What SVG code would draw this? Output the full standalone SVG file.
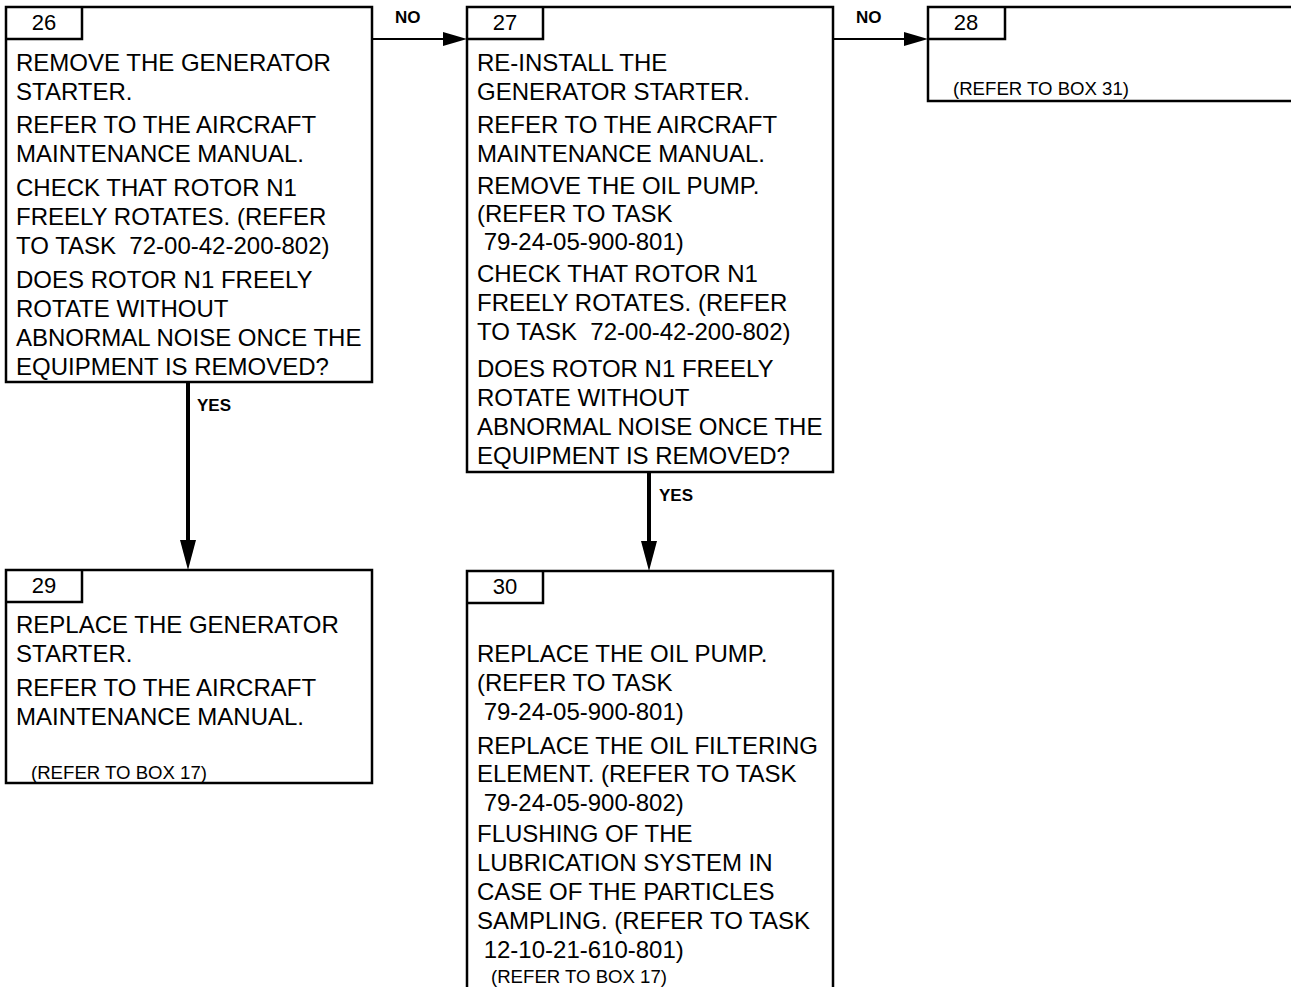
<svg xmlns="http://www.w3.org/2000/svg" width="1291" height="987" viewBox="0 0 1291 987">
<defs>
<style>
.box{fill:#fff;stroke:#000;stroke-width:2.5}
.tab{fill:none;stroke:#000;stroke-width:2.5}
.t{font-family:"Liberation Sans",Arial,sans-serif;font-size:24px;fill:#000}
.s{font-family:"Liberation Sans",Arial,sans-serif;font-size:18.6px;fill:#000}
.n{font-family:"Liberation Sans",Arial,sans-serif;font-size:22px;fill:#000;text-anchor:middle}
.l{font-family:"Liberation Sans",Arial,sans-serif;font-size:17px;font-weight:bold;fill:#000}
.v{stroke:#000;stroke-width:4;fill:none}
.h{stroke:#000;stroke-width:2;fill:none}
.p{white-space:pre}
</style>
</defs>
<rect width="1291" height="987" fill="#fff"/>
<g id="connectors">
<line class="h" x1="372" y1="39" x2="446" y2="39"/>
<polygon points="443,32 467,39 443,46"/>
<text class="l" x="395" y="23">NO</text>
<line class="h" x1="833" y1="39" x2="907" y2="39"/>
<polygon points="904,32 928,39 904,46"/>
<text class="l" x="856" y="23">NO</text>
<line class="v" x1="188" y1="382" x2="188" y2="545"/>
<polygon points="180,540 196,540 188,570"/>
<text class="l" x="197" y="411">YES</text>
<line class="v" x1="649" y1="472" x2="649" y2="545"/>
<polygon points="641,541 657,541 649,571"/>
<text class="l" x="659" y="501">YES</text>
</g>
<g id="box26">
<rect class="box" x="6" y="7" width="366" height="375"/>
<polyline class="tab" points="6,39 82,39 82,7"/>
<text class="n" x="44" y="30">26</text>
<text class="t">
<tspan x="16" y="71">REMOVE THE GENERATOR</tspan>
<tspan x="16" y="100">STARTER.</tspan>
<tspan x="16" y="133">REFER TO THE AIRCRAFT</tspan>
<tspan x="16" y="162">MAINTENANCE MANUAL.</tspan>
<tspan x="16" y="196">CHECK THAT ROTOR N1</tspan>
<tspan x="16" y="225">FREELY ROTATES. (REFER</tspan>
<tspan class="p" xml:space="preserve" x="16" y="254">TO TASK  72-00-42-200-802)</tspan>
<tspan x="16" y="288">DOES ROTOR N1 FREELY</tspan>
<tspan x="16" y="317">ROTATE WITHOUT</tspan>
<tspan x="16" y="346">ABNORMAL NOISE ONCE THE</tspan>
<tspan x="16" y="375">EQUIPMENT IS REMOVED?</tspan>
</text>
</g>
<g id="box27">
<rect class="box" x="467" y="7" width="366" height="465"/>
<polyline class="tab" points="467,39 543,39 543,7"/>
<text class="n" x="505" y="30">27</text>
<text class="t">
<tspan x="477" y="71">RE-INSTALL THE</tspan>
<tspan x="477" y="100">GENERATOR STARTER.</tspan>
<tspan x="477" y="133">REFER TO THE AIRCRAFT</tspan>
<tspan x="477" y="162">MAINTENANCE MANUAL.</tspan>
<tspan x="477" y="194">REMOVE THE OIL PUMP.</tspan>
<tspan x="477" y="222">(REFER TO TASK</tspan>
<tspan class="p" xml:space="preserve" x="477" y="250"> 79-24-05-900-801)</tspan>
<tspan x="477" y="282">CHECK THAT ROTOR N1</tspan>
<tspan x="477" y="311">FREELY ROTATES. (REFER</tspan>
<tspan class="p" xml:space="preserve" x="477" y="340">TO TASK  72-00-42-200-802)</tspan>
<tspan x="477" y="377">DOES ROTOR N1 FREELY</tspan>
<tspan x="477" y="406">ROTATE WITHOUT</tspan>
<tspan x="477" y="435">ABNORMAL NOISE ONCE THE</tspan>
<tspan x="477" y="464">EQUIPMENT IS REMOVED?</tspan>
</text>
</g>
<g id="box28">
<rect class="box" x="928" y="7" width="380" height="94"/>
<polyline class="tab" points="928,39 1005,39 1005,7"/>
<text class="n" x="966" y="30">28</text>
<text class="s" x="953" y="95">(REFER TO BOX 31)</text>
</g>
<g id="box29">
<rect class="box" x="6" y="570" width="366" height="213"/>
<polyline class="tab" points="6,602 82,602 82,570"/>
<text class="n" x="44" y="593">29</text>
<text class="t">
<tspan x="16" y="633">REPLACE THE GENERATOR</tspan>
<tspan x="16" y="662">STARTER.</tspan>
<tspan x="16" y="696">REFER TO THE AIRCRAFT</tspan>
<tspan x="16" y="725">MAINTENANCE MANUAL.</tspan>
</text>
<text class="s" x="31" y="779">(REFER TO BOX 17)</text>
</g>
<g id="box30">
<rect class="box" x="467" y="571" width="366" height="430"/>
<polyline class="tab" points="467,603 543,603 543,571"/>
<text class="n" x="505" y="594">30</text>
<text class="t">
<tspan x="477" y="662">REPLACE THE OIL PUMP.</tspan>
<tspan x="477" y="691">(REFER TO TASK</tspan>
<tspan class="p" xml:space="preserve" x="477" y="720"> 79-24-05-900-801)</tspan>
<tspan x="477" y="754">REPLACE THE OIL FILTERING</tspan>
<tspan x="477" y="782">ELEMENT. (REFER TO TASK</tspan>
<tspan class="p" xml:space="preserve" x="477" y="811"> 79-24-05-900-802)</tspan>
<tspan x="477" y="842">FLUSHING OF THE</tspan>
<tspan x="477" y="871">LUBRICATION SYSTEM IN</tspan>
<tspan x="477" y="900">CASE OF THE PARTICLES</tspan>
<tspan x="477" y="929">SAMPLING. (REFER TO TASK</tspan>
<tspan class="p" xml:space="preserve" x="477" y="958"> 12-10-21-610-801)</tspan>
</text>
<text class="s" x="491" y="983">(REFER TO BOX 17)</text>
</g>
</svg>
